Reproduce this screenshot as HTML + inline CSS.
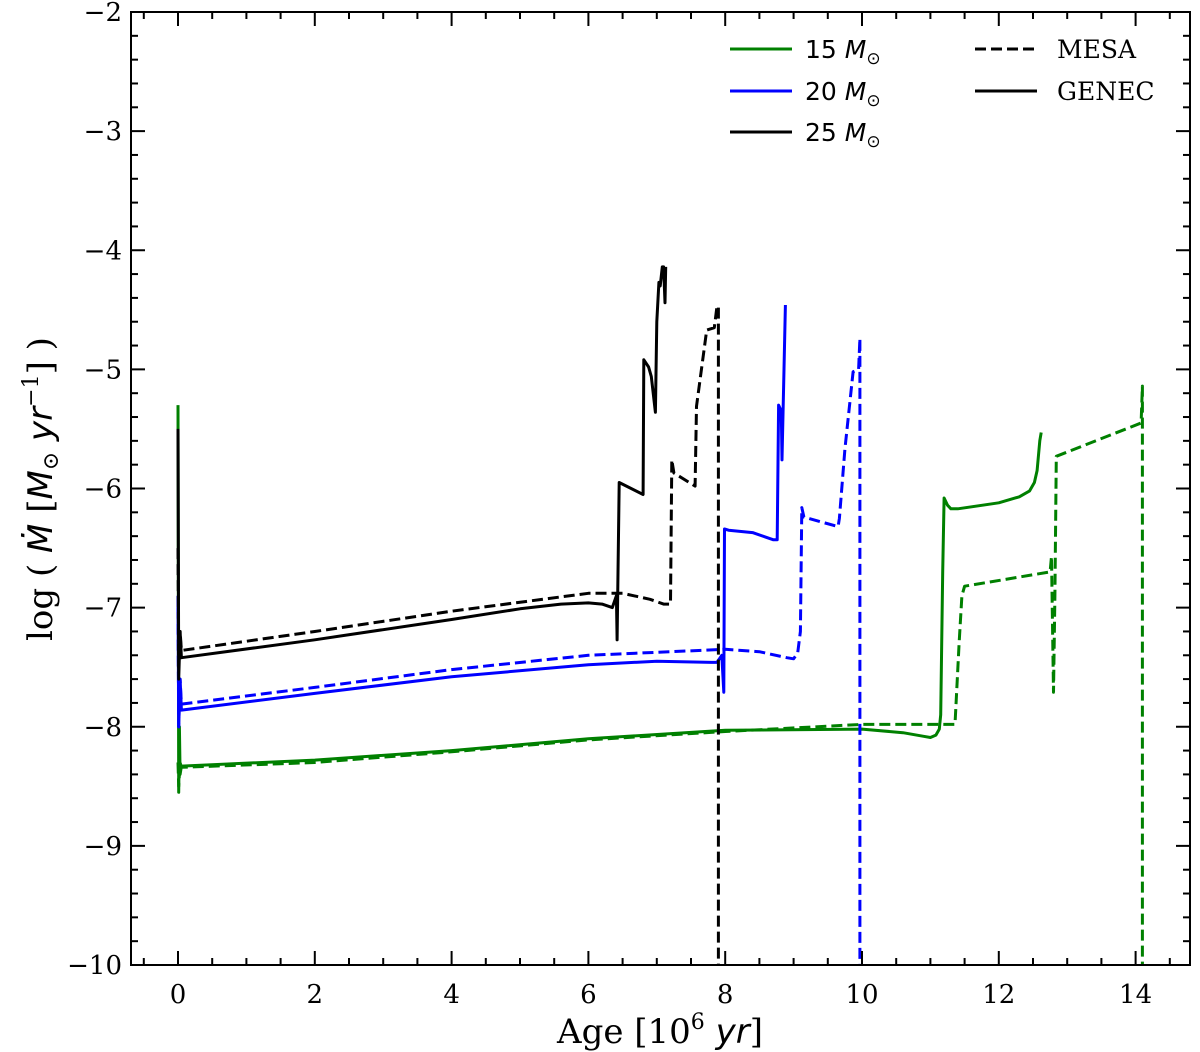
<!DOCTYPE html>
<html><head><meta charset="utf-8"><style>
html,body{margin:0;padding:0;background:#fff;}
svg{display:block;}
text{font-family:"DejaVu Serif","Liberation Serif",serif;}
.sans{font-family:"DejaVu Sans","Liberation Sans",sans-serif;}
</style></head><body>
<svg id="chart" width="1200" height="1052" viewBox="0 0 1200 1052" xmlns="http://www.w3.org/2000/svg">
<g id="series"></g>
<g id="axes"></g>
<g>
  <line x1="730" y1="49" x2="792" y2="49" stroke="#008000" stroke-width="3"/>
  <text class="sans" x="805" y="58" font-size="25">15 <tspan font-style="italic">M</tspan><tspan font-size="17" dy="6">⊙</tspan></text>
  <line x1="730" y1="91" x2="792" y2="91" stroke="#0000ff" stroke-width="3"/>
  <text class="sans" x="805" y="100" font-size="25">20 <tspan font-style="italic">M</tspan><tspan font-size="17" dy="6">⊙</tspan></text>
  <line x1="730" y1="132" x2="792" y2="132" stroke="#000" stroke-width="3"/>
  <text class="sans" x="805" y="141" font-size="25">25 <tspan font-style="italic">M</tspan><tspan font-size="17" dy="6">⊙</tspan></text>
  <line x1="975" y1="49" x2="1037" y2="49" stroke="#000" stroke-width="3" stroke-dasharray="11,5"/>
  <text x="1057" y="58" font-size="25">MESA</text>
  <line x1="975" y1="91" x2="1037" y2="91" stroke="#000" stroke-width="3"/>
  <text x="1057" y="100" font-size="25">GENEC</text>
</g>
</svg>
<script>
const xTicks=[0,2,4,6,8,10,12,14];
const yTicks=[-2,-3,-4,-5,-6,-7,-8,-9,-10];
const g15Age=[0,0.01,0.02,0.03,0.05,2,4,6,8,10,10.6,10.9,11.0,11.08,11.13,11.15,11.18,11.2,11.25,11.3,11.4,12,12.3,12.45,12.52,12.56,12.6,12.62];
const g15Val=[-5.3,-8.55,-8.0,-8.4,-8.33,-8.28,-8.2,-8.1,-8.03,-8.02,-8.05,-8.08,-8.09,-8.07,-8.02,-7.9,-6.7,-6.08,-6.14,-6.17,-6.17,-6.12,-6.07,-6.02,-5.95,-5.85,-5.6,-5.53];
const m15Age=[0,0.01,0.03,0.05,2,4,6,8,10,11.3,11.36,11.42,11.46,11.5,12.75,12.77,12.8,12.82,12.84,14.08,14.1,14.1];
const m15Val=[-8.3,-8.5,-8.3,-8.34,-8.3,-8.21,-8.11,-8.04,-7.98,-7.98,-7.98,-7.3,-6.9,-6.82,-6.70,-6.57,-7.71,-6.9,-5.73,-5.45,-5.14,-10];
const g20Age=[0,0.01,0.03,0.05,2,4,6,7,7.8,7.88,7.95,7.98,7.99,8.05,8.4,8.6,8.7,8.76,8.78,8.82,8.83,8.86,8.88];
const g20Val=[-6.9,-8.0,-7.6,-7.86,-7.72,-7.58,-7.48,-7.45,-7.46,-7.46,-7.4,-7.71,-6.34,-6.35,-6.37,-6.41,-6.43,-6.43,-5.3,-5.35,-5.76,-5.0,-4.46];
const m20Age=[0,0.01,0.03,0.05,2,4,6,8,8.5,8.9,9.0,9.06,9.1,9.12,9.15,9.65,9.67,9.75,9.87,9.95,9.97,9.97];
const m20Val=[-7.0,-8.0,-7.6,-7.81,-7.67,-7.52,-7.40,-7.35,-7.37,-7.42,-7.43,-7.38,-7.2,-6.16,-6.24,-6.32,-6.25,-5.67,-5.02,-5.0,-4.74,-10];
const g25Age=[0,0.01,0.03,0.05,2,4,5.0,5.6,6.0,6.2,6.35,6.41,6.42,6.45,6.8,6.81,6.88,6.92,6.98,7.0,7.03,7.05,7.08,7.1,7.12,7.13];
const g25Val=[-5.5,-7.6,-7.2,-7.42,-7.27,-7.1,-7.01,-6.97,-6.96,-6.97,-7.0,-6.9,-7.27,-5.95,-6.05,-4.92,-4.98,-5.06,-5.36,-4.6,-4.27,-4.3,-4.14,-4.14,-4.44,-4.14];
const m25Age=[0,0.01,0.03,0.05,2,4,6,6.5,6.9,7.1,7.2,7.22,7.25,7.56,7.58,7.73,7.84,7.88,7.9,7.9];
const m25Val=[-6.5,-7.5,-7.2,-7.36,-7.2,-7.03,-6.88,-6.88,-6.93,-6.97,-6.97,-5.76,-5.87,-5.98,-5.31,-4.67,-4.65,-4.47,-4.47,-10];

const L=131,R=1190,T=12,B=965;
const X=a=>178+a*68.4;
const Y=v=>T+(-2-v)*(B-T)/8;
const NS='http://www.w3.org/2000/svg';
const sg=document.getElementById('series'),ag=document.getElementById('axes');
function mk(tag,attrs,parent){const e=document.createElementNS(NS,tag);for(const k in attrs)e.setAttribute(k,attrs[k]);parent.appendChild(e);return e;}
const cp=mk('clipPath',{id:'clip'},document.getElementById('chart'));
mk('rect',{x:L,y:T,width:R-L,height:B-T},cp);
sg.setAttribute('clip-path','url(#clip)');
function series(ages,vals,color,dash,name){
  const d=ages.map((a,i)=>(i?'L':'M')+X(a).toFixed(1)+' '+Y(vals[i]).toFixed(1)).join(' ');
  const p=mk('path',{d:d,fill:'none',stroke:color,'stroke-width':3,'stroke-linejoin':'round'},sg);
  if(dash)p.setAttribute('stroke-dasharray','11,5');
  
  
}
series(m15Age,m15Val,'#008000',true,'mesa-15-line');
series(g15Age,g15Val,'#008000',false,'genec-15-line');
series(m20Age,m20Val,'#0000ff',true,'mesa-20-line');
series(g20Age,g20Val,'#0000ff',false,'genec-20-line');
series(m25Age,m25Val,'#000',true,'mesa-25-line');
series(g25Age,g25Val,'#000',false,'genec-25-line');

mk('rect',{x:L,y:T,width:R-L,height:B-T,fill:'none',stroke:'#000','stroke-width':2},ag);
for(let a=-0.5;a<=14.8;a+=0.5){
  const x=X(a),major=Math.abs(a/2-Math.round(a/2))<1e-6;const len=major?14:7;
  mk('line',{x1:x,y1:B,x2:x,y2:B-len,stroke:'#000','stroke-width':2},ag);
  mk('line',{x1:x,y1:T,x2:x,y2:T+len,stroke:'#000','stroke-width':2},ag);
}
for(let i=0;i<=40;i++){
  const v=-10+i*0.2,y=Y(v),major=i%5===0;const len=major?14:7;
  mk('line',{x1:L,y1:y,x2:L+len,y2:y,stroke:'#000','stroke-width':2},ag);
  mk('line',{x1:R,y1:y,x2:R-len,y2:y,stroke:'#000','stroke-width':2},ag);
}
xTicks.forEach(t=>{
  const e=mk('text',{x:X(t),y:1003,'font-size':26,'text-anchor':'middle'},ag);
  e.textContent=String(t);
  
  
});
yTicks.forEach(t=>{
  const e=mk('text',{x:122,y:Y(t)+9,'font-size':26,'text-anchor':'end'},ag);
  e.textContent='\u2212'+Math.abs(t);
  
  
});
const xt=mk('text',{x:660,y:1043,'font-size':34,'text-anchor':'middle'},ag);
xt.innerHTML='Age [10<tspan font-size="22" dy="-14">6</tspan><tspan dy="14"> </tspan><tspan font-style="italic" class="sans">yr</tspan>]';


const yt=mk('text',{x:0,y:0,'font-size':34,'text-anchor':'middle',transform:'translate(52,489) rotate(-90)'},ag);
yt.innerHTML='log ( <tspan font-style="italic" class="sans">Ṁ</tspan> [<tspan font-style="italic" class="sans">M</tspan><tspan font-size="22" dy="6">⊙</tspan><tspan dy="-6"> </tspan><tspan font-style="italic" class="sans">yr</tspan><tspan font-size="22" dy="-14">−1</tspan><tspan dy="14">] )</tspan>';


</script>
</body></html>
